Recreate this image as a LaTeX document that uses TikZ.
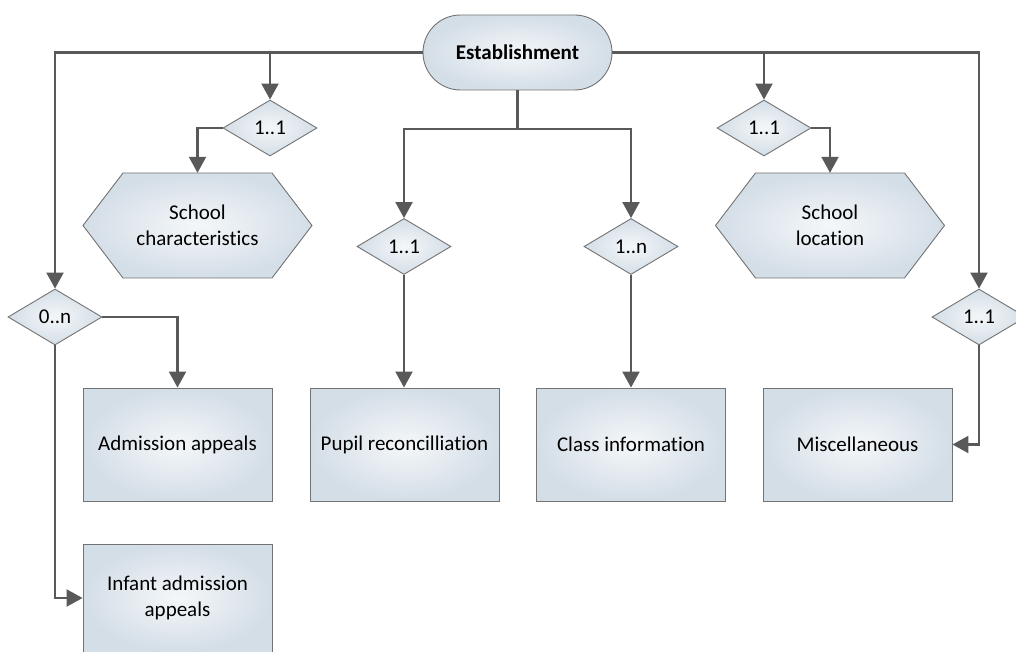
\documentclass[tikz,border=0pt]{standalone}
\usepackage{fontspec}
\setmainfont{Carlito}[Ligatures=NoCommon]
\usetikzlibrary{shapes.geometric,shapes.misc,arrows.meta}
\definecolor{lnc}{HTML}{595959}
\definecolor{bdc}{HTML}{737373}
\definecolor{fout}{HTML}{D4DEE7}
\definecolor{fin}{HTML}{F4F7F9}
\begin{document}
\begin{tikzpicture}[x=1pt,y=-1pt,
  skin/.style={draw=bdc, line width=0.9pt, shade, shading=radial, inner color=fin, outer color=fout},
  txt/.style={font=\fontsize{21}{26}\selectfont, align=center, inner sep=0pt},
  base/.style={skin, txt},
  box/.style={base, rectangle, minimum width=189pt, minimum height=113pt},
  card/.style={base, diamond, minimum width=94pt, minimum height=56pt},
  hexlabel/.style={txt, rectangle, minimum width=229pt, minimum height=105pt},
  term/.style={base, rounded rectangle, minimum width=189pt, minimum height=75pt,
    font=\fontsize{21}{26}\selectfont\bfseries},
  conn/.style={draw=lnc, line width=2.2pt},
  arr/.style={conn, -{Triangle[width=17pt,length=16pt]}}
]
\useasboundingbox (0,0) rectangle (1016,652);

\node[term] (est) at (517.5,52.5) {Establishment};

\node[card] (d1) at (270,128) {1..1};
\node[card] (d2) at (764,128) {1..1};
\node[card] (d3) at (404,246.5) {1..1};
\node[card] (d4) at (631,246.5) {1..n};
\node[card] (d0) at (55,317) {0..n};
\node[card] (d5) at (979,317) {1..1};

\path[skin, shift={(197.5,225.5)}] (-114.5,0) -- (-74.5,-52.5) -- (74.5,-52.5) -- (114.5,0) -- (74.5,52.5) -- (-74.5,52.5) -- cycle;
\node[hexlabel] (hex1) at (197.5,225.5) {School\\characteristics};
\path[skin, shift={(830,225.5)}] (-114.5,0) -- (-74.5,-52.5) -- (74.5,-52.5) -- (114.5,0) -- (74.5,52.5) -- (-74.5,52.5) -- cycle;
\node[hexlabel] (hex2) at (830,225.5) {School\\location};

\node[box] (adm) at (177.5,444.5) {Admission appeals};
\node[box] (pup) at (404.5,444.5) {Pupil reconcilliation};
\node[box] (cls) at (631,444.5) {Class information};
\node[box] (misc) at (857.5,444.5) {Miscellaneous};
\node[box, minimum height=108pt] (inf) at (177.5,598) {Infant admission\\appeals};

\coordinate (j) at (517.5,129);

\draw[arr] (est.west) -| (d0.north);
\draw[arr] (est.east) -| (d5.north);
\draw[arr] (est.west -| d1.north) -- (d1.north);
\draw[arr] (est.east -| d2.north) -- (d2.north);
\draw[conn] (est.south) -- (j);
\draw[arr] (j) -| (d3.north);
\draw[arr] (j) -| (d4.north);
\draw[arr] (d3.south) -- (d3.south |- pup.north);
\draw[arr] (d4.south) -- (d4.south |- cls.north);
\draw[arr] (d1.west) -| (hex1.north);
\draw[arr] (d2.east) -| (hex2.north);
\draw[arr] (d0.east) -| (adm.north);
\draw[arr] (d0.south) |- (inf.west);
\draw[arr] (d5.south) |- (misc.east);
\end{tikzpicture}
\end{document}
